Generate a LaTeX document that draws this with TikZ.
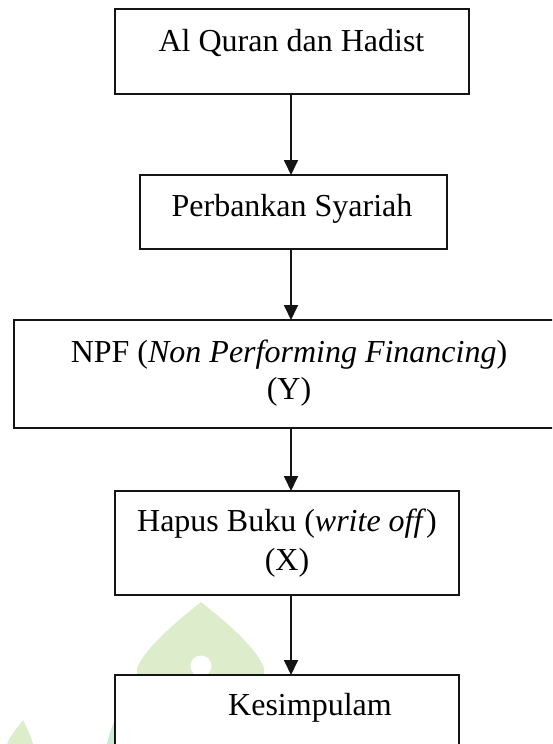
\documentclass[tikz,border=0pt]{standalone}
\usepackage{fontspec}
\setmainfont{Liberation Serif}
\usetikzlibrary{arrows.meta}
\definecolor{wmgreen}{RGB}{221,237,203}
\definecolor{wmteal}{RGB}{205,232,212}
\definecolor{edge}{RGB}{20,20,20}
\begin{document}
\begin{tikzpicture}[x=1pt,y=-1pt,
  box/.style={draw=edge, line width=1.8pt, fill=white, inner sep=0pt, outer sep=0pt, anchor=north west},
  lbl/.style={anchor=base, inner sep=0pt, font=\fontsize{32}{38}\selectfont},
  arr/.style={draw=edge, line width=1.8pt, -{Triangle[width=14pt,length=15pt]}}]
\useasboundingbox (0,0) rectangle (552,744);
\clip (0,0) rectangle (552,744);
% watermark
\fill[wmgreen] (201,602) .. controls (181,618) and (146,646) .. (137,668) -- (137,700) -- (264,700) -- (264,668) .. controls (256,646) and (221,618) .. (201,602) -- cycle;
\fill[white] (201,666) circle (10.5pt);
\fill[wmgreen] (23,720) .. controls (17,728) and (10,736) .. (7,744) -- (33,744) .. controls (31,736) and (27,728) .. (23,720) -- cycle;
\fill[wmteal] (107,744) .. controls (109,735) and (112,726) .. (115,720) -- (115,744) -- cycle;
% boxes
\node[box, minimum width=354pt, minimum height=85pt] (b1) at (115,9) {};
\node[box, minimum width=307pt, minimum height=74pt] (b2) at (140,175) {};
\node[box, minimum width=566pt, minimum height=108pt] (b3) at (14,320) {};
\node[box, minimum width=344pt, minimum height=104pt] (b4) at (115,491) {};
\node[box, minimum width=344pt, minimum height=110pt] (b5) at (115,675) {};
% texts
\node[lbl] (t1) at (291.5,51) {Al Quran dan Hadist};
\node[lbl] (t2) at (292,216) {Perbankan Syariah};
\node[lbl] (t3a) at (289,362) {NPF (\textit{Non Performing Financing})};
\node[lbl] (t3b) at (289,399) {(Y)};
\node[lbl] (t4a) at (287,531) {Hapus Buku (\textit{write off})};
\node[lbl] (t4b) at (287,570) {(X)};
\node[lbl] (t5) at (310,715) {Kesimpulam};
% connectors
\coordinate (ax) at (291,0);
\draw[arr] (b1.south -| ax) -- (b2.north -| ax);
\draw[arr] (b2.south -| ax) -- (b3.north -| ax);
\draw[arr] (b3.south -| ax) -- (b4.north -| ax);
\draw[arr] (b4.south -| ax) -- (b5.north -| ax);
\end{tikzpicture}
\end{document}
